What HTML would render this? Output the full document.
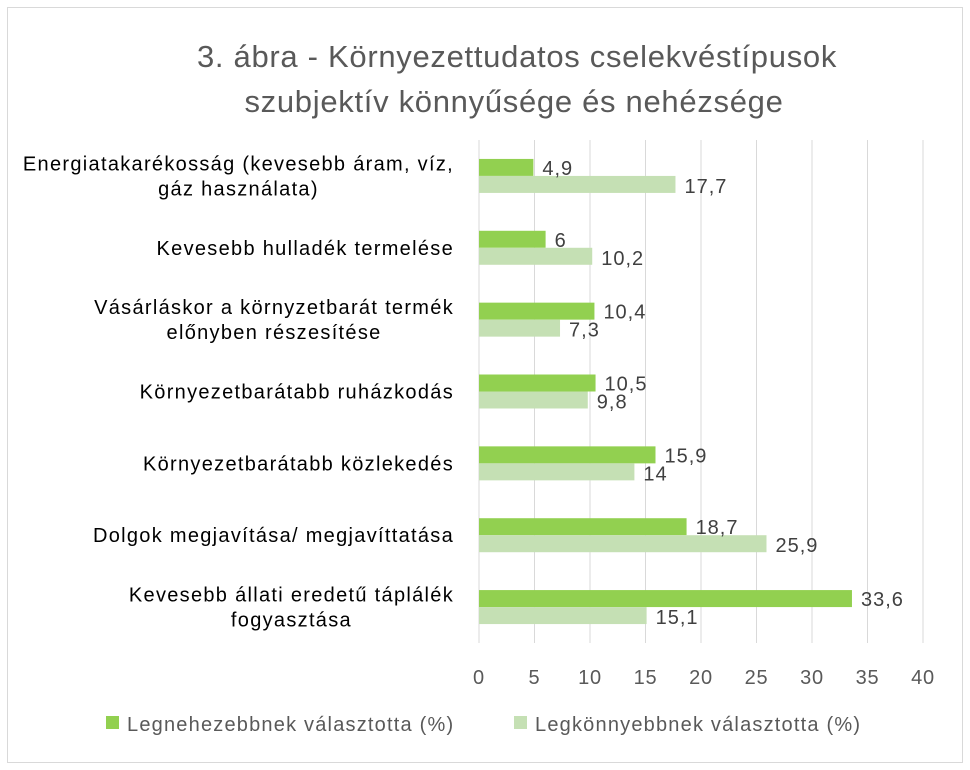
<!DOCTYPE html>
<html><head><meta charset="utf-8"><style>
html,body{margin:0;padding:0;background:#fff;}
svg{display:block;font-family:"Liberation Sans",sans-serif;}
</style></head><body>
<svg id="chart" width="970" height="770" viewBox="0 0 970 770">
<rect x="7.5" y="7.5" width="955" height="755" fill="#fff" stroke="#d9d9d9"/>
<text x="517" y="67" text-anchor="middle" font-size="31" letter-spacing="0.7" fill="#595959">3. ábra - Környezettudatos cselekvéstípusok</text>
<text x="514" y="112" text-anchor="middle" font-size="31" letter-spacing="0.7" fill="#595959">szubjektív könnyűsége és nehézsége</text>
<g id="grid"></g><g id="bars"></g><g id="labels"></g><g id="ticks"></g>
<g>
<rect x="106" y="716" width="13" height="13" fill="#92d050"/>
<text x="127" y="731" font-size="20" letter-spacing="1.2" fill="#595959">Legnehezebbnek választotta (%)</text>
<rect x="514" y="716" width="13" height="13" fill="#c5e0b4"/>
<text x="535" y="731" font-size="20" letter-spacing="1.2" fill="#595959">Legkönnyebbnek választotta (%)</text>
</g>
</svg>
<script>
const categories=["Energiatakarékosság (kevesebb áram, víz,\ngáz használata)","Kevesebb hulladék termelése","Vásárláskor a környzetbarát termék\nelőnyben részesítése","Környezetbarátabb ruházkodás","Környezetbarátabb közlekedés","Dolgok megjavítása/ megjavíttatása","Kevesebb állati eredetű táplálék\nfogyasztása"];
const hardest=[4.9,6,10.4,10.5,15.9,18.7,33.6];
const easiest=[17.7,10.2,7.3,9.8,14,25.9,15.1];
const hardestLabels=["4,9","6","10,4","10,5","15,9","18,7","33,6"];
const easiestLabels=["17,7","10,2","7,3","9,8","14","25,9","15,1"];
const ticks=[0,5,10,15,20,25,30,35,40];
const NS="http://www.w3.org/2000/svg";
const X0=479,X1=923,XMAX=40,TOP=140,BOT=643;
const band=(BOT-TOP)/categories.length,BH=17;
function x(v){return X0+v/XMAX*(X1-X0);}
function yc(i){return TOP+band*(i+0.5);}
function mk(tag,attrs,parent){const e=document.createElementNS(NS,tag);for(const k in attrs)e.setAttribute(k,attrs[k]);document.getElementById(parent).appendChild(e);return e;}
ticks.forEach(t=>{
 const l=mk('line',{x1:x(t),x2:x(t),y1:TOP,y2:BOT,stroke:'#d9d9d9','stroke-width':1},'grid');
 
 
 const tx=mk('text',{x:x(t),y:684,'text-anchor':'middle','font-size':20,'letter-spacing':0.8,fill:'#595959'},'ticks');
 tx.textContent=t;
 
 
});
categories.forEach((c,i)=>{
 const c0=yc(i);
 const b1=mk('rect',{x:X0,y:c0-BH,width:x(hardest[i])-X0,height:BH,fill:'#92d050'},'bars');
 
 
 const b2=mk('rect',{x:X0,y:c0,width:x(easiest[i])-X0,height:BH,fill:'#c5e0b4'},'bars');
 
 
 const v1=mk('text',{x:x(hardest[i])+9,y:c0-1,'font-size':20,'letter-spacing':1,fill:'#404040'},'labels');
 v1.textContent=hardestLabels[i];
 
 
 const v2=mk('text',{x:x(easiest[i])+9,y:c0+17,'font-size':20,'letter-spacing':1,fill:'#404040'},'labels');
 v2.textContent=easiestLabels[i];
 
 
 const lines=c.split("\n");
 const g=mk('text',{'font-size':20,'letter-spacing':1.3,fill:'#000','text-anchor':'middle'},'labels');
 
 
 const lh=25,start=c0-(lines.length-1)*lh/2+7;
 const spans=lines.map((ln,k)=>{const s=document.createElementNS(NS,'tspan');s.setAttribute('y',start+k*lh);s.textContent=ln;g.appendChild(s);return s;});
 let w=0;spans.forEach(s=>{w=Math.max(w,s.getComputedTextLength());});
 const cx=454-w/2;spans.forEach(s=>s.setAttribute('x',cx));
});
</script>
</body></html>
